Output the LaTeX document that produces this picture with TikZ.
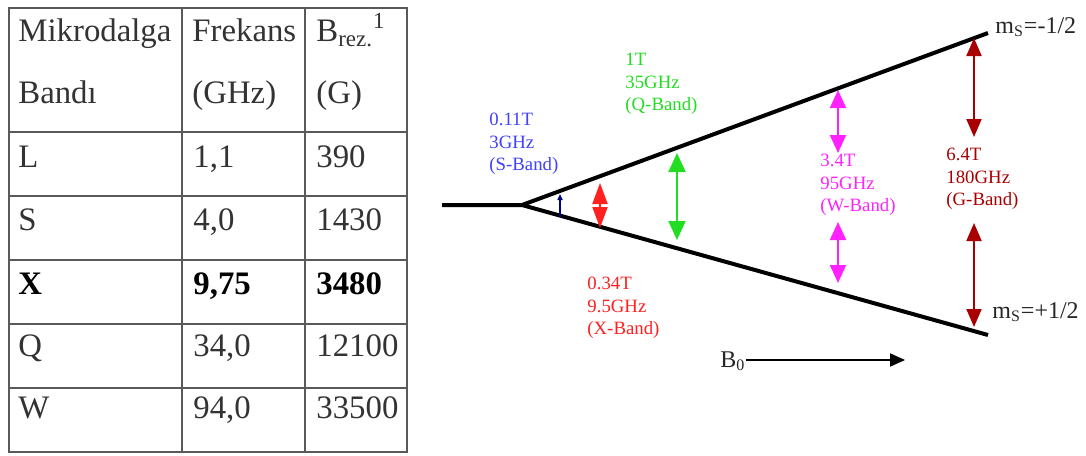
\documentclass[tikz,border=0pt]{standalone}
\usepackage{fontspec}
\setmainfont{Liberation Serif}
\usetikzlibrary{arrows.meta}
\definecolor{tabgray}{HTML}{5A5A5A}
\definecolor{tabtext}{HTML}{333333}
\definecolor{sblue}{HTML}{4040FF}
\definecolor{snavy}{HTML}{000080}
\definecolor{xred}{HTML}{FF2020}
\definecolor{qgreen}{HTML}{22DD22}
\definecolor{wmag}{HTML}{FF22FF}
\definecolor{gred}{HTML}{A80000}

\begin{document}
\begin{tikzpicture}[x=0.5pt, y=-0.5pt]
  \useasboundingbox (0,0) rectangle (1086,455);
  % draw table grid
  \draw[tabgray, line width=1pt] (9,8) rectangle (407,452);
  \draw[tabgray, line width=1pt] (182,8) -- (182,452);
  \draw[tabgray, line width=1pt] (305,8) -- (305,452);
  \draw[tabgray, line width=1pt] (9,132) -- (407,132);
  \draw[tabgray, line width=1pt] (9,196) -- (407,196);
  \draw[tabgray, line width=1pt] (9,260) -- (407,260);
  \draw[tabgray, line width=1pt] (9,324) -- (407,324);
  \draw[tabgray, line width=1pt] (9,388) -- (407,388);
  % table header
  \tikzset{cell/.style={anchor=base west, inner sep=0pt, text=tabtext, font=\fontsize{16.4}{20}\selectfont}}
  \node[cell] (head_band0) at (18,41) {Mikrodalga};
  \node[cell] (head_band1) at (18,103) {Bandı};
  \node[cell] (head_freq0) at (192,41) {Frekans};
  \node[cell] (head_freq1) at (192,103) {(GHz)};
  \node[cell] (head_bres0) at (316,41) {B\textsubscript{rez.}\textsuperscript{1}};
  \node[cell] (head_bres1) at (316,103) {(G)};
  % table rows
  \node[cell] (row_l_band) at (18,167) {L};
  \node[cell] (row_l_freq) at (193,167) {1,1};
  \node[cell] (row_l_bres) at (316,167) {390};
  \node[cell] (row_s_band) at (18,230) {S};
  \node[cell] (row_s_freq) at (193,230) {4,0};
  \node[cell] (row_s_bres) at (316,230) {1430};
  \node[cell, font=\fontsize{16.4}{20}\selectfont\bfseries, text=black] (row_x_band) at (18,294) {X};
  \node[cell, font=\fontsize{16.4}{20}\selectfont\bfseries, text=black] (row_x_freq) at (193,294) {9,75};
  \node[cell, font=\fontsize{16.4}{20}\selectfont\bfseries, text=black] (row_x_bres) at (316,294) {3480};
  \node[cell] (row_q_band) at (18,356) {Q};
  \node[cell] (row_q_freq) at (193,356) {34,0};
  \node[cell] (row_q_bres) at (316,356) {12100};
  \node[cell] (row_w_band) at (18,418) {W};
  \node[cell] (row_w_freq) at (193,418) {94,0};
  \node[cell] (row_w_bres) at (316,418) {33500};
  % draw zeeman levels
  \coordinate (lvl_start) at (442,205);
  \coordinate (lvl_split) at (522,205);
  \coordinate (lvl_up_end) at (988,33);
  \coordinate (lvl_low_end) at (988,335);
  \draw[black, line width=2pt] (lvl_start) -- (lvl_split) -- (lvl_up_end);
  \draw[black, line width=2pt] (lvl_split) -- (lvl_low_end);
  \node[anchor=base west, inner sep=0pt, font=\fontsize{12}{14}\selectfont, text=black!85] (ms_up) at (995,33) {m\textsubscript{S}=-1/2};
  \node[anchor=base west, inner sep=0pt, font=\fontsize{12}{14}\selectfont, text=black!85] (ms_low) at (992,318) {m\textsubscript{S}=+1/2};
  % draw band arrows
  \coordinate (s_low) at (560,217);
  \coordinate (s_up) at (560,194);
  \draw[snavy, line width=1pt, -{Triangle[width=2.5pt,length=3pt]}] (s_low) -- (s_up);
  \coordinate (x_up) at (600,183);
  \coordinate (x_low) at (600,228);
  \draw[xred, line width=1pt, {Triangle[width=7.5pt,length=10.5pt]}-{Triangle[width=7.5pt,length=10.5pt]}] (x_up) -- (x_low);
  \coordinate (q_up) at (677,153);
  \coordinate (q_low) at (677,240);
  \draw[qgreen, line width=1pt, {Triangle[width=8.5pt,length=9.5pt]}-{Triangle[width=8.5pt,length=9.5pt]}] (q_up) -- (q_low);
  \coordinate (w_up0) at (838,90);
  \coordinate (w_up1) at (838,153);
  \coordinate (w_low0) at (838,222);
  \coordinate (w_low1) at (838,283);
  \draw[wmag, line width=1pt, {Triangle[width=8pt,length=9pt]}-{Triangle[width=8pt,length=9pt]}] (w_up0) -- (w_up1);
  \draw[wmag, line width=1pt, {Triangle[width=8pt,length=9pt]}-{Triangle[width=8pt,length=9pt]}] (w_low0) -- (w_low1);
  \coordinate (g_up0) at (974,38);
  \coordinate (g_up1) at (974,137);
  \coordinate (g_low0) at (974,223);
  \coordinate (g_low1) at (974,327);
  \draw[gred, line width=1pt, {Triangle[width=7.5pt,length=9pt]}-{Triangle[width=7.5pt,length=9pt]}] (g_up0) -- (g_up1);
  \draw[gred, line width=1pt, {Triangle[width=7.5pt,length=9pt]}-{Triangle[width=7.5pt,length=9pt]}] (g_low0) -- (g_low1);
  % band labels
  \tikzset{band/.style={anchor=north west, inner sep=0pt, align=left, font=\fontsize{9.4}{11.25}\selectfont}}
  \node[band, text=sblue] (s_label) at (489,113) {0.11T\\3GHz\\(S-Band)};
  \node[band, text=qgreen] (q_label) at (625,53) {1T\\35GHz\\(Q-Band)};
  \node[band, text=xred] (x_label) at (587,277) {0.34T\\9.5GHz\\(X-Band)};
  \node[band, text=wmag] (w_label) at (820,154) {3.4T\\95GHz\\(W-Band)};
  \node[band, text=gred] (g_label) at (946,148) {6.4T\\180GHz\\(G-Band)};
  % field arrow
  \node[anchor=base west, inner sep=0pt, font=\fontsize{12}{14}\selectfont, text=black!85] (b0_label) at (720,367) {B\textsubscript{0}};
  \coordinate (b0_tip) at (905,360);
  \draw[black, line width=1pt, -{Triangle[width=6.5pt,length=7.5pt]}] (b0_label.east |- b0_tip) -- (b0_tip);
\end{tikzpicture}
\end{document}
